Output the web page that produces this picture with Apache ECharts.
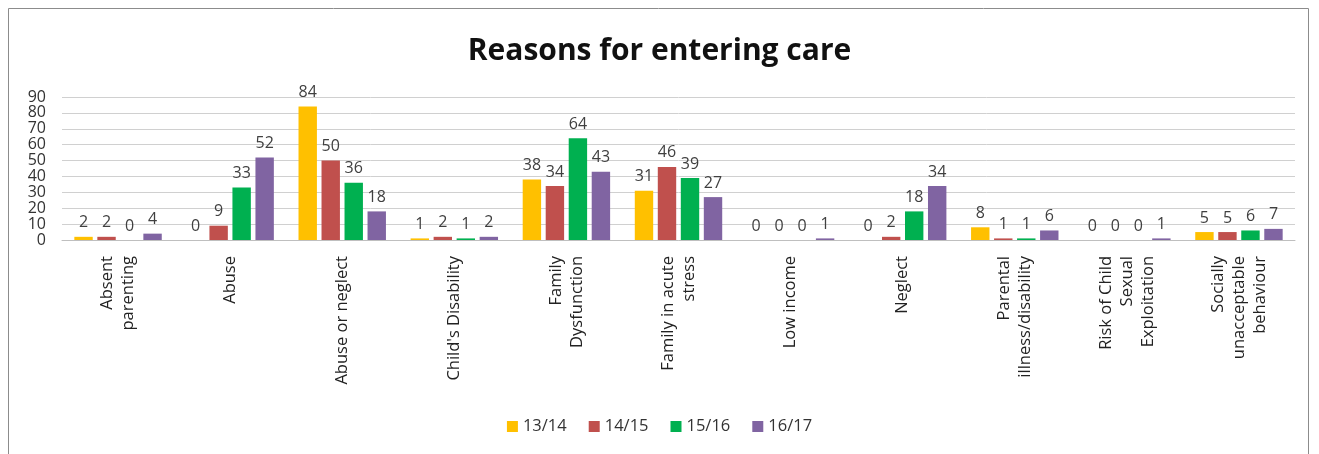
<!DOCTYPE html>
<html><head><meta charset="utf-8">
<script src="https://cdn.jsdelivr.net/npm/echarts@6/dist/echarts.min.js"></script>
<style>html,body{margin:0;padding:0;background:#fff}#c{width:1319px;height:454px}</style>
</head><body><div id="c"></div>
<script>
const categories = ["Absent\nparenting","Abuse","Abuse or neglect","Child's Disability","Family\nDysfunction","Family in acute\nstress","Low income","Neglect","Parental\nillness/disability","Risk of Child\nSexual\nExploitation","Socially\nunacceptable\nbehaviour"];
const seriesNames = ["13/14","14/15","15/16","16/17"];
const s1314 = [2,0,84,1,38,31,0,0,8,0,5];
const s1415 = [2,9,50,2,34,46,0,2,1,0,5];
const s1516 = [0,33,36,1,64,39,0,18,1,0,6];
const s1617 = [4,52,18,2,43,27,1,34,6,1,7];
const yTicks = {min:0,max:90,interval:10};
const colors = ["#FFC000","#C0504D","#00B050","#8064A2"];
const font = "'Open Sans', 'Liberation Sans', sans-serif";
const chart = echarts.init(document.getElementById('c'));
const data = [s1314,s1415,s1516,s1617];
chart.setOption({
  animation:false,
  color:colors,
  graphic:[{type:'rect',shape:{x:8.5,y:8.5,width:1300,height:470},style:{fill:'none',stroke:'#8c8c8c',lineWidth:1}}],
  title:{text:'Reasons for entering care',left:'center',top:31,textStyle:{fontFamily:font,fontSize:30,fontWeight:'bold',color:'#111'}},
  legend:{bottom:14,left:'center',itemWidth:11,itemHeight:11,itemGap:22,icon:'rect',textStyle:{fontFamily:font,fontSize:16.5,color:'#333'},data:seriesNames},
  grid:{left:62,right:24,top:97,bottom:214,containLabel:false},
  xAxis:{type:'category',data:categories,axisTick:{show:false},axisLine:{lineStyle:{color:'#bfbfbf'}},
    axisLabel:{rotate:90,interval:0,margin:16,fontFamily:font,fontSize:16.5,color:'#222',lineHeight:21,align:'right',verticalAlign:'middle'}},
  yAxis:{type:'value',min:yTicks.min,max:yTicks.max,interval:yTicks.interval,axisLine:{show:false},axisTick:{show:false},
    splitLine:{lineStyle:{color:'#d0d0d0'}},axisLabel:{fontFamily:font,fontSize:16,color:'#333',margin:16,lineHeight:12,showMinLabel:true,showMaxLabel:true,hideOverlap:false}},
  series:seriesNames.map((n,i)=>({name:n,type:'bar',data:data[i],barGap:'25%',barCategoryGap:'22%',
    label:{show:true,position:'top',distance:6,fontFamily:font,fontSize:16,color:'#404040'}}))
});
</script></body></html>
